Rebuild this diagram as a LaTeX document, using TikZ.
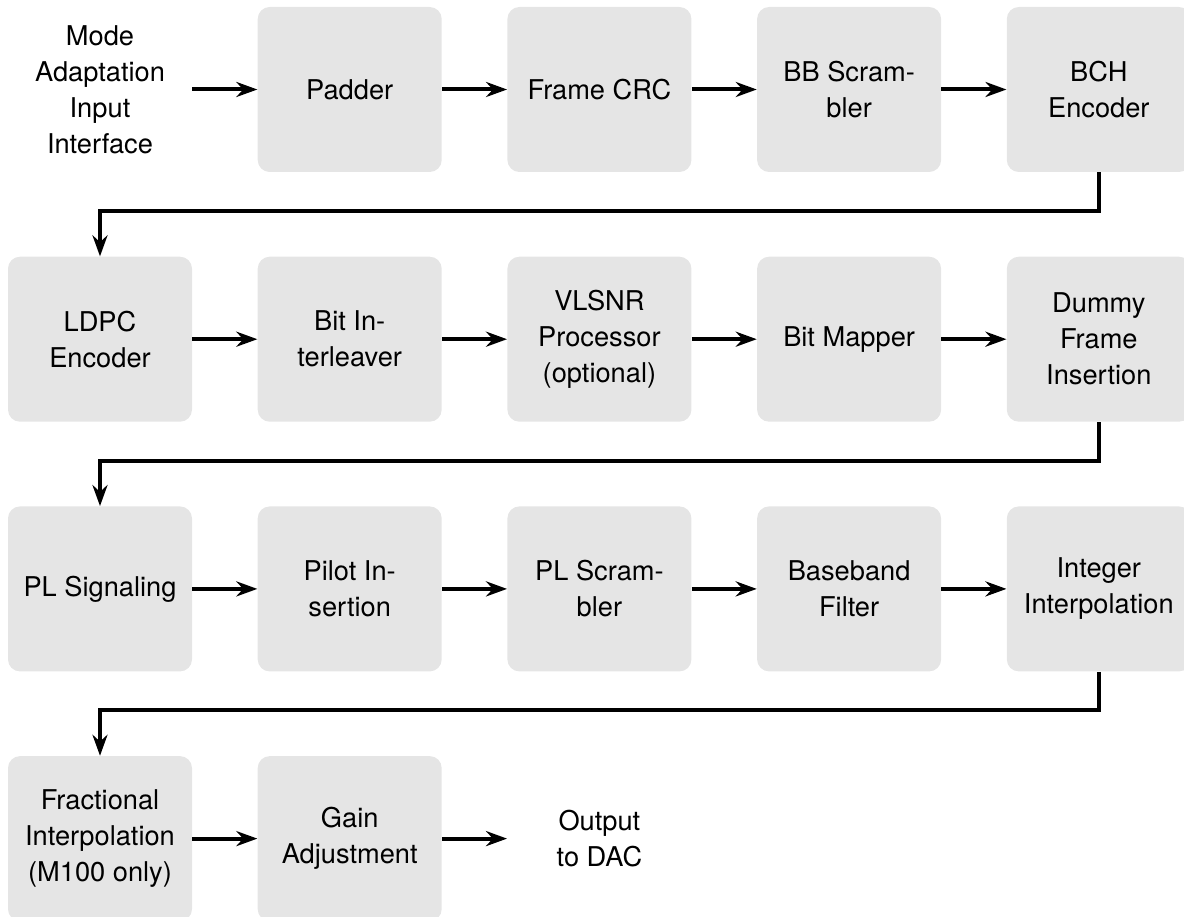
\documentclass[tikz,border=0pt]{standalone}
\usepackage{fontspec}
\setmainfont{TeX Gyre Heros}
\usepackage{tikz}
\usetikzlibrary{positioning, arrows.meta}
\definecolor{BlkGray}{RGB}{229,229,229}

\begin{document}
\begin{tikzpicture}[
            blk/.style={rectangle, rounded corners=0.24cm, fill=BlkGray,
                        minimum width=3.68cm, minimum height=3.3cm,
                        inner sep=0pt, align=center,
                        font=\fontsize{15.5}{20.5}\selectfont},
            lbl/.style={blk, fill=none},
            arr/.style={-{Stealth[length=0.42cm, width=0.3cm]}, line width=0.08cm}
          ]
          \useasboundingbox (0,0) rectangle (23.68,18.32);

          % row 1: input side
          \node[lbl] (in) at (2.00,16.53) {Mode\\Adaptation\\Input\\Interface};
          \node[blk, right=1.3cm of in]   (pad) {Padder};
          \node[blk, right=1.3cm of pad]  (crc) {Frame CRC};
          \node[blk, right=1.3cm of crc]  (bbs) {BB Scram-\\bler};
          \node[blk, right=1.3cm of bbs]  (bch) {BCH\\Encoder};

          % row 2: coding
          \node[blk, below=1.68cm of in]  (ldpc) {LDPC\\Encoder};
          \node[blk, right=1.3cm of ldpc] (bil)  {Bit In-\\terleaver};
          \node[blk, right=1.3cm of bil]  (vls)  {VLSNR\\Processor\\(optional)};
          \node[blk, right=1.3cm of vls]  (map)  {Bit Mapper};
          \node[blk, right=1.3cm of map]  (dfi)  {Dummy\\Frame\\Insertion};

          % row 3: framing and filtering
          \node[blk, below=1.68cm of ldpc] (pls) {PL Signaling};
          \node[blk, right=1.3cm of pls]   (pil) {Pilot In-\\sertion};
          \node[blk, right=1.3cm of pil]   (plx) {PL Scram-\\bler};
          \node[blk, right=1.3cm of plx]   (bbf) {Baseband\\Filter};
          \node[blk, right=1.3cm of bbf]   (iip) {Integer\\Interpolation};

          % row 4: output side
          \node[blk, below=1.68cm of pls] (fip) {Fractional\\Interpolation\\(M100 only)};
          \node[blk, right=1.3cm of fip]  (gain) {Gain\\Adjustment};
          \node[lbl, right=1.3cm of gain] (out) {Output\\to DAC};

          % straight arrows along each row
          \foreach \a/\b in {in/pad, pad/crc, crc/bbs, bbs/bch,
                             ldpc/bil, bil/vls, vls/map, map/dfi,
                             pls/pil, pil/plx, plx/bbf, bbf/iip,
                             fip/gain, gain/out} {
            \draw[arr] (\a.east) -- (\b.west);
          }

          % wrap-around to the next row
          \draw[arr] (bch.south) -- ++(0,-0.77) -| (ldpc.north);
          \draw[arr] (dfi.south) -- ++(0,-0.77) -| (pls.north);
          \draw[arr] (iip.south) -- ++(0,-0.77) -| (fip.north);
        \end{tikzpicture}
\end{document}
